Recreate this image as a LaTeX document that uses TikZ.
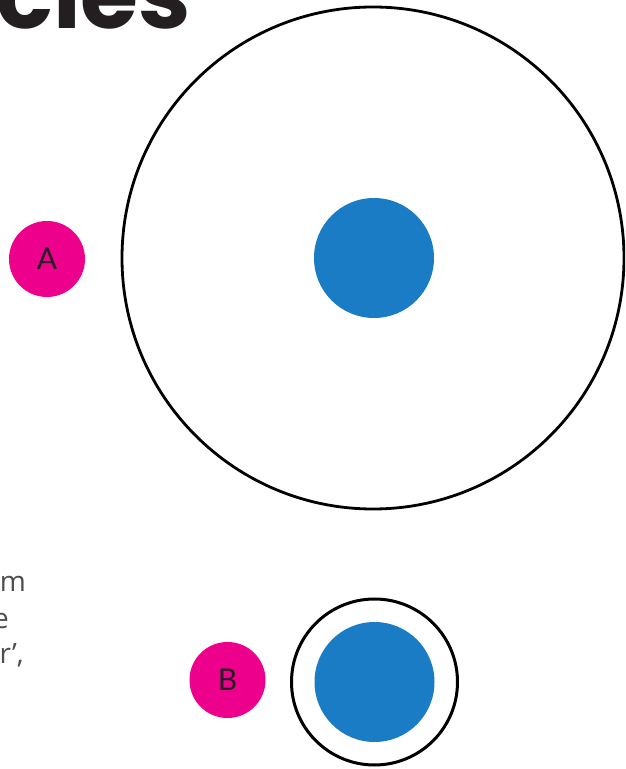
\documentclass[tikz,border=0pt]{standalone}
\usepackage{fontspec}
\setmainfont{Lato}
\newfontfamily\titlefont{Poppins}
\newfontfamily\bodyfont{Open Sans}
\definecolor{magentaA}{HTML}{EC008C}
\definecolor{blueN}{HTML}{1B7CC6}
\definecolor{inkT}{HTML}{231F20}
\definecolor{grayT}{HTML}{4D4D4D}
\tikzset{
  x=1pt, y=1pt,
  tag/.style={circle, fill=magentaA, inner sep=0pt, minimum size=76pt, text=inkT, font=\fontsize{30}{32}\selectfont},
  nucleus/.style={circle, fill=blueN, inner sep=0pt, minimum size=120pt},
  shell/.style={circle, draw=black, line width=2.8pt, inner sep=0pt},
  bodytext/.style={anchor=base east, inner sep=0pt, text=grayT, font=\bodyfont\fontsize{28}{32}\selectfont}
}
\begin{document}
\begin{tikzpicture}
\useasboundingbox (0,0) rectangle (625,769);
\clip (0,0) rectangle (625,769);
% title fragment
\node[anchor=base west, inner sep=0pt, text=inkT, font=\titlefont\bfseries\fontsize{94}{100}\selectfont] (title) at (-4,740) {cles};
% large atom
\node[shell, minimum size=502pt] (bigshell) at (373,511) {};
\node[nucleus] (bignuc) at (374,511) {};
\node[tag] (A) at (47,510) {A};
% small atom
\node[shell, minimum size=166pt, line width=3pt] (smallshell) at (374.5,87) {};
\node[nucleus] (smallnuc) at (374.5,87) {};
\node[tag] (B) at (227.5,89) {B};
% cut-off body text
\node[bodytext] (t1) at (26,177) {om};
\node[bodytext] (t2) at (9,140) {e};
\node[bodytext] (t3) at (24,105) {r’,};
\end{tikzpicture}
\end{document}
